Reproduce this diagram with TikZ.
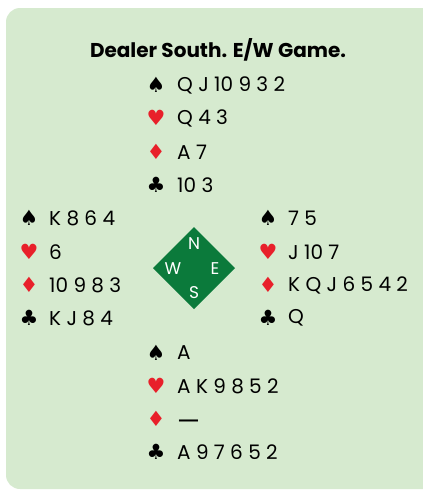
\documentclass[tikz,border=0pt]{standalone}
\usepackage{fontspec}
\setmainfont{Poppins}
\newfontfamily\suitfont{DejaVu Sans}
\definecolor{panelbg}{HTML}{D6EACF}
\definecolor{suitred}{HTML}{E8202A}
\definecolor{tablegreen}{HTML}{0B7A3B}
\tikzset{
  cards/.style={anchor=west, inner sep=0pt, font=\fontsize{20}{22}\selectfont},
  suit/.style={inner sep=0pt, font=\suitfont\fontsize{21}{23}\selectfont},
  red suit/.style={suit, text=suitred},
  compass/.style={inner sep=0pt, text=white, font=\fontsize{17}{19}\selectfont},
}
\begin{document}
\begin{tikzpicture}[x=1pt,y=-1pt]
\useasboundingbox (0,0) rectangle (423,491);
\begin{scope}
\clip (0,0) rectangle (423,491);
\fill[panelbg, rounded corners=14pt] (6,8) rectangle (450,489);
\end{scope}
\node[inner sep=0pt, font=\bfseries\fontsize{20}{22}\selectfont] (title) at (218,50) {Dealer South. E/W Game.};
% North
\node[suit] (ns) at (156,85) {♠};
\node[red suit] (nh) at (156,118) {♥};
\node[red suit] (nd) at (156,152) {♦};
\node[suit] (nc) at (156,185) {♣};
\node[cards] (nst) at (177,85) {Q J 10 9 3 2};
\node[cards] (nht) at (177,118) {Q 4 3};
\node[cards] (ndt) at (177,152) {A 7};
\node[cards] (nct) at (177,185) {10 3};
% West
\node[suit] (ws) at (29,218) {♠};
\node[red suit] (wh) at (29,252) {♥};
\node[red suit] (wd) at (29,285) {♦};
\node[suit] (wc) at (29,318) {♣};
\node[cards] (wst) at (49,218) {K 8 6 4};
\node[cards] (wht) at (49,252) {6};
\node[cards] (wdt) at (49,285) {10 9 8 3};
\node[cards] (wct) at (49,318) {K J 8 4};
% East
\node[suit] (es) at (268,218) {♠};
\node[red suit] (eh) at (268,252) {♥};
\node[red suit] (ed) at (268,285) {♦};
\node[suit] (ec) at (268,318) {♣};
\node[cards] (est) at (288,218) {7 5};
\node[cards] (eht) at (288,252) {J 10 7};
\node[cards] (edt) at (288,285) {K Q J 6 5 4 2};
\node[cards] (ect) at (288,318) {Q};
% South
\node[suit] (ss) at (156,353) {♠};
\node[red suit] (sh) at (156,386) {♥};
\node[red suit] (sd) at (156,419) {♦};
\node[suit] (sc) at (156,452) {♣};
\node[cards] (sst) at (177,353) {A};
\node[cards] (sht) at (177,386) {A K 9 8 5 2};
\node[cards, yshift=-6pt] (sdt) at (177,419) {\resizebox{23pt}{!}{—}};
\node[cards] (sct) at (177,452) {A 9 7 6 5 2};
% Compass
\fill[tablegreen] (194,227) -- (235,268) -- (194,309) -- (153,268) -- cycle;
\node[compass] (cn) at (194,244) {N};
\node[compass] (cw) at (173,269) {W};
\node[compass] (ce) at (215,269) {E};
\node[compass] (cs) at (194,293) {S};
\end{tikzpicture}
\end{document}
